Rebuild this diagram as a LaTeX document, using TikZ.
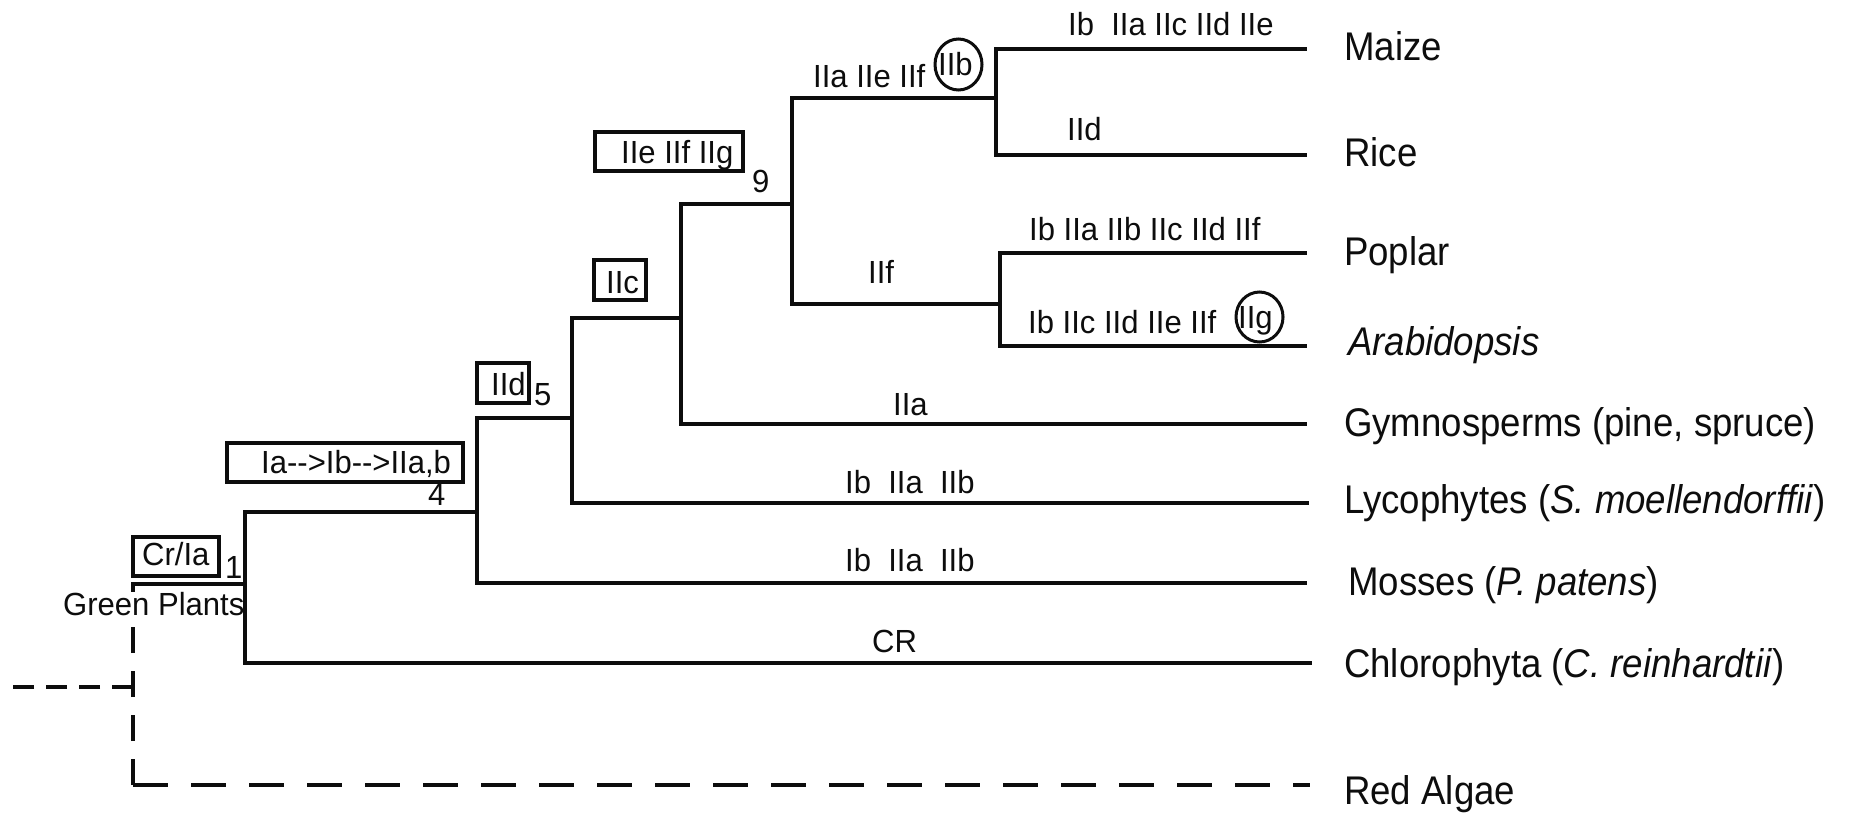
\documentclass[tikz,border=0pt]{standalone}
\usepackage{fontspec}
\setmainfont{Liberation Sans}
\newfontfamily\bigf[FakeStretch=0.915]{Liberation Sans}
\newfontfamily\smf[FakeStretch=0.97]{Liberation Sans}
\usetikzlibrary{shapes.geometric}
\begin{document}
\begin{tikzpicture}[x=1pt,y=-1pt,
  br/.style={line width=3.2pt, draw=black!95, line cap=rect},
  dsh/.style={line width=3.2pt, draw=black!95},
  tax/.style={anchor=base west, inner sep=0pt, font=\bigf\fontsize{40}{48}\selectfont, text=black!95},
  lab/.style={anchor=base west, inner sep=0pt, font=\smf\fontsize{32}{38}\selectfont, text=black!95},
  box/.style={draw=black!95, line width=3.2pt, inner sep=0pt},
  ring/.style={draw=black!95, line width=3pt, ellipse, inner sep=0pt}]
\fill[white] (0,0) rectangle (1849,814);
\useasboundingbox (0,0) rectangle (1849,814);

% internal nodes
\coordinate (root) at (133,687);
\coordinate (out) at (10,687);
\coordinate (gp) at (245,584);
\coordinate (n4) at (477,512);
\coordinate (n5) at (572,418);
\coordinate (n6) at (681,318);
\coordinate (n9) at (792,204);
\coordinate (mono) at (996,98);
\coordinate (eudi) at (1000,304);
% leaf ends
\coordinate (maize) at (1305,49);
\coordinate (rice) at (1305,155);
\coordinate (poplar) at (1305,253);
\coordinate (arab) at (1305,346);
\coordinate (gymno) at (1305,424);
\coordinate (lyco) at (1307,503);
\coordinate (moss) at (1305,583);
\coordinate (chlamy) at (1310,663);
\coordinate (red) at (1310,785);

% dashed parts
\draw[dsh, dash pattern=on 35pt off 23pt] (red -| root) -- (red);
\draw[dsh, dash pattern=on 26pt off 18pt] (red -| root) -- (gp -| root);
\draw[dsh, dash pattern=on 21pt off 12pt] (root) -- (out);

% Green Plants label (covers dashed line)
\node[lab, fill=white] (gpl) at (63,615) {Green Plants};

% solid branches
\draw[br] (gp) -- (gp -| root);
\draw[br] (n4) -| (gp);
\draw[br] (chlamy) -| (gp);
\draw[br] (n5) -| (n4);
\draw[br] (moss) -| (n4);
\draw[br] (n6) -| (n5);
\draw[br] (lyco) -| (n5);
\draw[br] (n9) -| (n6);
\draw[br] (gymno) -| (n6);
\draw[br] (mono) -| (n9);
\draw[br] (eudi) -| (n9);
\draw[br] (maize) -| (mono);
\draw[br] (rice) -| (mono);
\draw[br] (poplar) -| (eudi);
\draw[br] (arab) -| (eudi);

% boxes
\node[box, minimum width=86pt, minimum height=39pt] (bCr) at (176,556.5) {};
\node[box, minimum width=236pt, minimum height=39pt] (bIa) at (345,462.5) {};
\node[box, minimum width=52pt, minimum height=40pt] (bIId) at (503,383) {};
\node[box, minimum width=52pt, minimum height=40pt] (bIIc) at (620,280) {};
\node[box, minimum width=148pt, minimum height=39pt] (bIIe) at (669,151.5) {};

% rings
\node[ring, minimum width=47pt, minimum height=51pt] (rIIb) at (958.5,64.5) {};
\node[ring, minimum width=47pt, minimum height=50pt] (rIIg) at (1259.5,317) {};

% small labels
\node[lab] (tCr) at (142,565) {Cr/Ia};
\node[lab] (t1) at (225,578) {1};
\node[lab] (tIa) at (261,473) {Ia-{}->Ib-{}->IIa,b};
\node[lab] (t4) at (428,505) {4};
\node[lab] (tIId) at (491,395) {IId};
\node[lab] (t5) at (534,405) {5};
\node[lab] (tIIc) at (606,293) {IIc};
\node[lab] (tIIe) at (621,163) {IIe IIf IIg};
\node[lab] (t9) at (752,192) {9};
\node[lab] (tn9) at (813,87) {IIa IIe IIf};
\node[lab] (tIIb) at (938,75) {IIb};
\node[lab] (tmaize) at (1068,35) {Ib\ \ IIa IIc IId IIe};
\node[lab] (trice) at (1067,140) {IId};
\node[lab] (tpop) at (1029,240) {Ib IIa IIb IIc IId IIf};
\node[lab] (teud) at (868,283) {IIf};
\node[lab] (tarab) at (1028,333) {Ib IIc IId IIe IIf};
\node[lab] (tIIg) at (1238,328) {IIg};
\node[lab] (tgym) at (893,415) {IIa};
\node[lab] (tlyc) at (845,493) {Ib\ \ IIa\ \ IIb};
\node[lab] (tmos) at (845,571) {Ib\ \ IIa\ \ IIb};
\node[lab] (tcr) at (872,652) {CR};

% taxa
\node[tax] (Lmaize) at (1344,60) {Maize};
\node[tax] (Lrice) at (1344,166) {Rice};
\node[tax] (Lpop) at (1344,265) {Poplar};
\node[tax] (Larab) at (1348,355) {\itshape Arabidopsis};
\node[tax] (Lgym) at (1344,436) {Gymnosperms (pine, spruce)};
\node[tax] (Llyc) at (1344,513) {Lycophytes (\textit{S. moellendorffii})};
\node[tax] (Lmos) at (1348,595) {Mosses (\textit{P. patens})};
\node[tax] (Lchl) at (1344,677) {Chlorophyta (\textit{C. reinhardtii})};
\node[tax] (Lred) at (1344,804) {Red Algae};
\end{tikzpicture}
\end{document}
